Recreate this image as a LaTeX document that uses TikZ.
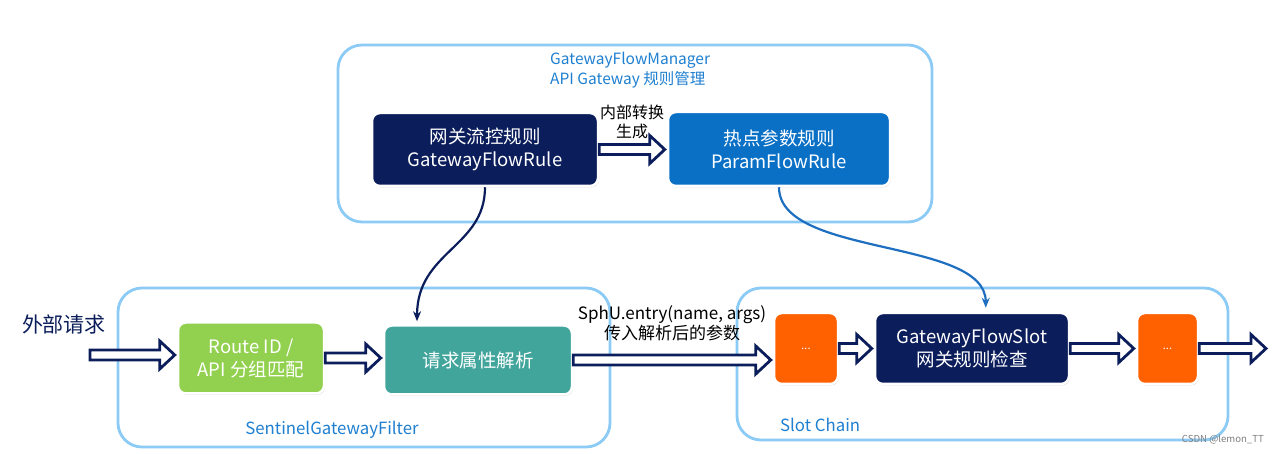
\documentclass[tikz,border=0pt]{standalone}
\usepackage{fontspec}
\setmainfont{Noto Sans CJK SC}
\usetikzlibrary{calc,shadows,arrows.meta}
\definecolor{cont}{HTML}{8CCBF5}
\definecolor{navy}{HTML}{0B1E5B}
\definecolor{bluebox}{HTML}{0A70C6}
\definecolor{greenbox}{HTML}{92D14F}
\definecolor{tealbox}{HTML}{42A59C}
\definecolor{orangebox}{HTML}{FF6100}
\definecolor{tblue}{HTML}{1F7FD0}
\definecolor{curveblue}{HTML}{1E6FC0}
\tikzset{
  container/.style={draw=cont, line width=2.8pt, rounded corners=24pt, fill=none},
  boxstyle/.style={draw=white, line width=2.5pt, rounded corners=8pt, text=white,
    font=\fontsize{18.5}{23}\selectfont, align=center, inner sep=0pt,
    drop shadow={opacity=0.25, shadow xshift=1pt, shadow yshift=-1.5pt}},
  contlabel/.style={text=tblue, font=\fontsize{15.5}{20}\selectfont, align=left, inner sep=0pt},
  botlabel/.style={text=tblue, font=\fontsize{16.8}{20}\selectfont, inner sep=0pt},
  arrlabel/.style={text=black, font=\fontsize{17}{20}\selectfont, align=center, inner sep=0pt},
  harrow/.style={draw=navy, line width=2.8pt, fill=white, line join=miter},
}
\newcommand\hollowarr[2]{%
  \draw[harrow] ($(#1)+(0,5)$) -- ($(#2)+(-17,5)$) -- ($(#2)+(-17,14)$) -- ($(#2)+(-2,0)$)
    -- ($(#2)+(-17,-14)$) -- ($(#2)+(-17,-5)$) -- ($(#1)+(0,-5)$) -- cycle;}
\begin{document}
\begin{tikzpicture}[x=1pt,y=-1pt]
\useasboundingbox[fill=white] (0,0) rectangle (1278,454);
% containers
\node[container, minimum width=594pt, minimum height=177pt] (topc) at (635,133.5) {};
\node[container, minimum width=492pt, minimum height=159pt] (leftc) at (364,367.5) {};
\node[container, minimum width=491pt, minimum height=152pt] (rightc) at (982.5,364) {};
\node[contlabel, anchor=west] (topt) at (550,70) {GatewayFlowManager\\API Gateway 规则管理};
\node[botlabel, anchor=center] (leftt) at (332,430) {SentinelGatewayFilter};
\node[botlabel, anchor=west] (rightt) at (780,425) {Slot Chain};
% top boxes
\node[boxstyle, fill=navy, minimum width=226pt, minimum height=73pt] (gfr) at (485,149.5) {网关流控规则\\GatewayFlowRule};
\node[boxstyle, fill=bluebox, minimum width=222pt, minimum height=74pt] (pfr) at (779,149) {热点参数规则\\ParamFlowRule};
% bottom boxes
\node[boxstyle, fill=greenbox, minimum width=146pt, minimum height=71pt] (route) at (251,358) {Route ID /\\API 分组匹配};
\node[boxstyle, fill=tealbox, minimum width=188pt, minimum height=69pt] (parse) at (478,360) {请求属性解析};
\node[boxstyle, fill=orangebox, minimum width=64pt, minimum height=71pt, font=\fontsize{11}{13}\selectfont] (o1) at (806,348.5) {...};
\node[boxstyle, fill=navy, minimum width=194pt, minimum height=71pt] (slot) at (972,348.5) {GatewayFlowSlot\\网关规则检查};
\node[boxstyle, fill=orangebox, minimum width=61pt, minimum height=71pt, font=\fontsize{11}{13}\selectfont] (o2) at (1167.5,348.5) {...};
% free labels
\node[text=navy, font=\fontsize{21}{24}\selectfont, inner sep=0pt] (ext) at (64,325) {外部请求};
\node[arrlabel, font=\fontsize{16}{19}\selectfont] (lab1) at (632,122) {内部转换\\生成};
\node[arrlabel] (lab2) at (672,323) {SphU.entry(name, args)\\传入解析后的参数};
\node[text=gray, font=\fontsize{9.6}{11}\selectfont, anchor=east, inner sep=0pt] (wm) at (1264,440) {CSDN @lemon\_TT};
\coordinate (in) at (90,355);
\coordinate (out) at (1268,356);
% hollow arrows
\hollowarr{in}{in -| route.west}
\hollowarr{route.east}{route.east -| parse.west}
\hollowarr{gfr.east}{gfr.east -| pfr.west}
\hollowarr{parse.east}{parse.east -| o1.west}
\hollowarr{o1.east}{o1.east -| slot.west}
\hollowarr{slot.east}{slot.east -| o2.west}
\hollowarr{o2.east}{o2.east -| out}
% curves
\coordinate (ptop) at ($(parse.north west)!0.18!(parse.north east)$);
\draw[navy, line width=2.2pt, -{Stealth[length=10pt,width=8pt]}] (gfr.south) .. controls +(0,60) and +(0,-70) .. ($(ptop)+(0,-3)$);
\coordinate (stop) at ($(slot.north west)!0.57!(slot.north east)$);
\draw[curveblue, line width=2.2pt, -{Stealth[length=10pt,width=8pt]}] (pfr.south) .. controls +(0,70) and +(0,-70) .. ($(stop)+(0,-4)$);
\end{tikzpicture}
\end{document}
